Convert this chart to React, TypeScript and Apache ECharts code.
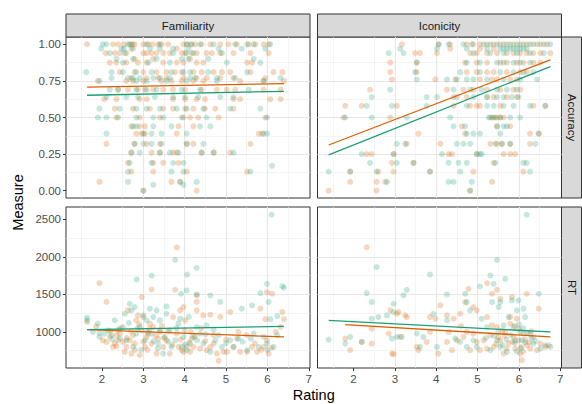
import React, { useEffect, useRef } from "react";
import * as echarts from "echarts";

const ORANGE = "#D95F02";
const TEAL = "#1B9E77";
const FONT = "'Liberation Sans', Arial, Helvetica, sans-serif";

const colPanels = ["Familiarity", "Iconicity"];
const rowPanels = ["Accuracy", "RT"];
const xTickValues = [2, 3, 4, 5, 6, 7];
const accTickValues = [0, 0.25, 0.5, 0.75, 1];
const rtTickValues = [1000, 1500, 2000, 2500];

// Accuracy rows: [accuracy, ratings...]
type Row = [number, number[]];

const famAccOrange: Row[] = [
  [1.0, [1.64, 2.27, 2.39, 2.53, 2.67, 2.74, 2.79, 3.0, 3.12, 3.22, 3.36, 3.44, 3.6, 3.97, 4.06, 4.15, 4.25, 4.41, 4.62, 4.86, 5.06, 5.26, 5.55, 5.71, 5.91, 6.03]],
  [0.97, [2.75, 3.81]],
  [0.94, [2.09, 2.31, 2.43, 2.59, 3.0, 3.08, 3.2, 3.32, 3.48, 3.64, 3.93, 4.01, 4.17, 4.29, 4.53, 4.66, 4.86, 5.18, 5.59, 6.03]],
  [0.9, [2.79, 3.24, 4.13]],
  [0.875, [2.19, 2.35, 2.59, 2.87, 3.08, 3.48, 3.81, 3.97, 4.29, 4.45, 5.51, 5.63]],
  [0.81, [2.43, 2.79, 3.0, 3.32, 3.56, 3.77, 3.93, 4.21, 4.41, 4.7, 4.9, 5.1, 5.59, 6.15, 6.36]],
  [0.77, [2.71, 3.08, 3.36, 3.56, 3.97, 4.29, 4.53, 4.86, 5.18, 5.95]],
  [0.75, [1.9, 2.59, 2.75, 3.0, 3.44, 3.68, 3.93, 4.21, 4.45, 5.34, 5.91, 6.4]],
  [0.69, [2.39, 2.63, 2.87, 3.04, 3.24, 3.48, 3.72, 4.01, 4.41, 4.78, 5.02, 5.22, 5.91, 6.32]],
  [0.625, [2.06, 2.35, 2.91, 3.08, 3.72, 4.01, 4.29, 4.49, 5.18, 5.34, 6.07, 6.32]],
  [0.56, [2.31, 2.75, 3.16, 3.48, 3.72, 4.01, 4.21, 4.49, 4.74, 5.18]],
  [0.5, [2.35, 2.91, 3.4, 3.97, 4.13, 4.33, 4.82, 5.95]],
  [0.44, [2.71, 2.91, 3.04, 3.85, 4.21]],
  [0.39, [2.83, 2.96, 3.04, 3.81, 5.79, 5.87]],
  [0.32, [2.11, 2.79, 3.08, 3.4, 4.05, 4.21, 5.59]],
  [0.26, [2.71, 3.2, 3.4, 3.72, 3.81, 4.41, 4.7, 5.1]],
  [0.19, [2.63, 3.24, 3.48, 3.85]],
  [0.13, [2.71, 3.24, 4.05, 5.51]],
  [0.06, [1.94, 3.68, 3.89]],
  [0.0, [3.0, 4.29]],
];

const famAccTeal: Row[] = [
  [1.0, [2.02, 2.11, 2.63, 2.71, 3.08, 3.4, 4.05, 4.17, 4.37, 4.7, 5.22, 5.51, 5.67, 6.07]],
  [0.97, [1.98, 2.47, 2.53, 2.71, 3.16, 3.4, 3.72, 4.09, 4.82, 5.38, 5.95]],
  [0.94, [2.19, 2.55, 3.72, 4.05, 4.21, 4.9]],
  [0.9, [2.35, 2.75, 3.32, 3.93, 4.09, 4.57, 5.67]],
  [0.875, [2.51, 3.12, 3.64, 5.02, 5.83]],
  [0.81, [1.62, 2.23, 2.51, 2.83, 3.2, 3.68, 3.97, 4.13, 4.57, 5.51]],
  [0.77, [2.23, 2.63, 2.75, 2.91, 3.24, 3.4, 3.64, 4.13, 4.25, 4.78, 5.22, 6.32]],
  [0.75, [1.94, 2.83, 3.08, 3.56, 4.05, 4.78, 5.91]],
  [0.69, [2.19, 2.39, 2.83, 3.08, 3.32, 3.93, 4.37, 5.55]],
  [0.64, [2.11, 2.59, 2.87, 3.28, 3.72, 4.01, 4.33, 4.86, 5.18]],
  [0.56, [1.94, 2.43, 2.83, 3.08, 3.4, 3.81, 4.05, 4.45, 5.1, 5.83]],
  [0.5, [1.9, 2.11, 2.39, 2.83, 3.24, 3.48, 3.93, 4.53, 5.99]],
  [0.44, [2.75, 2.83, 3.24, 3.68, 4.37, 4.62]],
  [0.39, [2.11, 3.0, 3.2, 3.44, 4.05, 5.91, 5.99]],
  [0.32, [2.79, 3.0, 3.2, 3.44, 4.05, 4.45]],
  [0.26, [2.71, 2.91, 3.4, 3.64, 3.85, 4.41, 4.7, 5.18]],
  [0.19, [2.67, 3.2, 3.72, 3.97]],
  [0.17, [6.11]],
  [0.13, [2.63, 3.68, 3.97, 5.59]],
  [0.06, [2.63, 3.89, 4.29]],
  [0.04, [3.24, 3.97]],
  [0.0, [3.0]],
];

const icoAccOrange: Row[] = [
  [1.0, [3.17, 4.06, 4.34, 4.74, 4.9, 5.06, 5.23, 5.39, 5.55, 5.71, 5.87, 6.03, 6.19, 6.35, 6.52, 6.68]],
  [0.97, [4.34, 5.06, 5.39]],
  [0.94, [3.49, 3.61, 4.02, 4.82, 4.98, 5.23, 5.47, 5.71, 5.87, 6.03, 6.19, 6.35, 6.52, 6.76]],
  [0.875, [2.89, 3.53, 4.7, 4.98, 5.23, 5.55, 5.71, 5.95, 6.11, 6.35, 6.52]],
  [0.81, [2.89, 3.53, 4.74, 4.98, 5.23, 5.39, 5.71, 6.03, 6.19]],
  [0.76, [2.93, 3.98, 4.46, 5.06, 5.35, 5.47, 5.79, 5.95]],
  [0.69, [2.4, 4.26, 4.66, 4.9, 5.23, 5.55, 5.87, 6.03]],
  [0.64, [4.5, 4.74, 5.23, 5.39, 5.71, 5.95]],
  [0.58, [1.8, 2.2, 3.05, 4.42, 4.82, 4.98, 5.06, 5.55, 6.35, 6.64]],
  [0.5, [1.76, 2.89, 5.31, 5.39, 5.47, 5.55, 5.63]],
  [0.44, [4.62, 5.47, 5.79]],
  [0.39, [3.57, 4.7, 6.27, 6.48]],
  [0.32, [3.29, 4.1, 5.31, 5.47, 5.59, 5.79, 6.27]],
  [0.25, [2.32, 2.44, 2.97, 4.3, 4.38, 4.98, 5.63, 5.79, 5.91]],
  [0.19, [2.93, 3.45, 5.39]],
  [0.13, [1.92, 2.6, 2.97, 3.85, 4.9, 6.11]],
  [0.06, [1.92, 2.56, 2.77, 5.35]],
  [0.0, [1.4, 2.56, 4.82]],
];

const icoAccTeal: Row[] = [
  [1.0, [4.06, 4.3, 4.66, 4.86, 5.15, 5.31, 5.47, 5.63, 5.79, 5.95, 6.11, 6.27, 6.44, 6.6, 6.76]],
  [0.97, [3.13, 4.02, 4.74, 5.23, 5.55, 5.63, 5.71, 5.79, 5.87, 5.95, 6.03, 6.11, 6.19]],
  [0.94, [2.85, 3.21, 4.9, 5.31, 5.63, 5.95, 6.27, 6.6]],
  [0.875, [3.53, 4.74, 5.06, 5.47, 5.63, 5.87, 6.03, 6.27]],
  [0.81, [3.49, 4.58, 5.06, 5.55, 5.87, 6.11, 6.35]],
  [0.76, [3.53, 4.26, 4.5, 4.74, 4.9, 5.23, 5.63, 6.03, 6.44]],
  [0.69, [2.89, 4.42, 4.82, 5.1, 5.47, 5.71, 5.95]],
  [0.64, [2.44, 3.77, 4.02, 4.42, 4.9, 5.23, 5.47, 5.63, 5.83, 5.99]],
  [0.58, [2.32, 2.93, 3.77, 4.74, 5.23, 5.39, 5.63, 5.87, 6.27, 6.64]],
  [0.5, [1.8, 2.44, 3.29, 4.34, 5.27, 5.35, 5.43, 5.55, 5.79, 6.03]],
  [0.44, [4.42, 4.7, 5.47, 5.63, 5.71]],
  [0.39, [4.74, 4.9, 5.06, 5.55, 6.48]],
  [0.32, [3.05, 3.25, 4.5, 4.66, 4.82, 5.43, 5.59, 5.79, 6.4]],
  [0.25, [2.2, 2.97, 4.14, 4.98, 5.06, 5.1]],
  [0.19, [2.4, 3.05, 3.45, 4.3, 4.54, 4.74, 5.43, 6.11, 6.19]],
  [0.13, [1.4, 1.92, 2.56, 3.85, 4.58, 6.27]],
  [0.06, [2.81, 4.3, 4.42, 4.86]],
  [0.0, [4.82]],
];

// RT points: [rating, RT]
const famRtOrange: [number, number][] = [
  [1.64, 1133], [1.86, 1075], [1.94, 1650], [2.11, 1400], [2.02, 889], [2.11, 867], [2.19, 934], [2.27, 801], [2.31, 845], [2.35, 810],
  [2.39, 889], [2.43, 978], [2.51, 867], [2.55, 735], [2.59, 801], [2.63, 1288], [2.67, 889], [2.71, 712], [2.75, 956], [2.79, 845],
  [2.83, 1155], [2.87, 1221], [2.91, 690], [2.96, 1022], [2.96, 1465], [3.0, 1199], [3.04, 801], [3.08, 934], [3.12, 978], [3.16, 1111],
  [3.2, 845], [3.2, 1566], [3.24, 1066], [3.32, 712], [3.36, 912], [3.4, 1000], [3.48, 801], [3.56, 889], [3.64, 712], [3.72, 1199],
  [3.77, 1562], [3.81, 2128], [3.81, 978], [3.85, 801], [3.89, 1288], [3.93, 757], [3.97, 735], [3.97, 1332], [4.01, 1155], [4.05, 801],
  [4.13, 735], [4.17, 912], [4.21, 801], [4.29, 1288], [4.29, 1400], [4.29, 1487], [4.37, 779], [4.45, 1221], [4.53, 757], [4.62, 801],
  [4.62, 1230], [4.7, 845], [4.78, 712], [4.82, 615], [4.86, 1200], [4.94, 735], [5.02, 735], [5.1, 1265], [5.18, 801], [5.26, 912],
  [5.34, 735], [5.51, 735], [5.63, 801], [5.75, 735], [5.83, 1310], [5.91, 801], [5.95, 1170], [5.99, 889], [5.99, 1530], [6.03, 712],
  [6.11, 1510], [6.32, 1066], [6.36, 1265], [6.4, 1170], [2.45, 1050], [2.6, 920], [2.7, 1010], [2.8, 760], [2.9, 1100], [3.0, 870],
  [3.1, 760], [3.15, 1040], [3.3, 950], [3.45, 1080], [3.5, 920], [3.6, 1010], [3.7, 830], [3.9, 900], [4.0, 1020], [4.1, 860],
  [4.15, 1000], [4.25, 940], [4.4, 1050], [4.5, 880], [4.7, 960], [5.0, 900], [5.3, 1000], [5.5, 960], [5.7, 850], [6.1, 790],
  [6.2, 1000], [5.85, 760], [2.2, 1010], [2.35, 960],
];

const famRtTeal: [number, number][] = [
  [1.64, 1190], [1.64, 1155], [1.9, 1111], [1.94, 987], [1.78, 1000], [1.94, 934], [2.06, 978], [2.15, 1022], [2.23, 956], [2.31, 1155],
  [2.43, 912], [2.51, 1066], [2.55, 1243], [2.59, 889], [2.67, 1376], [2.71, 1288], [2.75, 801], [2.79, 1332], [2.83, 978], [2.84, 1700],
  [2.91, 1066], [3.0, 1221], [3.04, 889], [3.08, 1155], [3.16, 1310], [3.2, 978], [3.2, 1752], [3.24, 1199], [3.32, 1288], [3.36, 845],
  [3.4, 1155], [3.48, 712], [3.52, 934], [3.56, 1243], [3.56, 1340], [3.64, 1022], [3.68, 801], [3.77, 889], [3.77, 1960], [3.85, 1111],
  [3.89, 1177], [3.91, 1509], [3.93, 801], [3.97, 934], [4.05, 757], [4.05, 1553], [4.06, 1765], [4.13, 845], [4.21, 934], [4.29, 1066],
  [4.29, 1854], [4.29, 1500], [4.37, 978], [4.45, 845], [4.53, 1089], [4.62, 735], [4.62, 1487], [4.74, 889], [4.82, 956], [4.86, 1400],
  [4.9, 801], [5.1, 889], [5.18, 801], [5.3, 912], [5.38, 1310], [5.51, 757], [5.63, 1354], [5.67, 978], [5.79, 801], [5.83, 1518],
  [5.91, 934], [5.99, 845], [5.99, 1642], [6.03, 1400], [6.07, 1170], [6.1, 2562], [6.15, 801], [6.24, 956], [6.24, 1212], [6.36, 1610],
  [6.4, 1590], [2.4, 1030], [2.65, 1120], [2.85, 1040], [2.95, 760], [3.1, 1000], [3.25, 880], [3.4, 1020], [3.6, 870], [3.8, 1050],
  [4.0, 830], [4.1, 1200], [4.3, 890], [4.5, 970], [4.7, 1030], [5.0, 850], [5.4, 870], [5.6, 910], [6.0, 760], [2.25, 900], [3.35, 780],
];

const icoRtOrange: [number, number][] = [
  [2.32, 2128], [3.05, 1243], [3.09, 1265], [3.25, 1221], [3.29, 1199], [2.89, 1288], [3.85, 1199], [3.98, 1177], [4.1, 1354], [4.26, 1221],
  [4.42, 1177], [4.58, 1243], [4.78, 1575], [4.7, 1398], [4.9, 1332], [5.23, 1650], [5.35, 1509], [5.47, 1562], [5.55, 1442], [5.83, 1465],
  [6.19, 1509], [6.48, 1310], [1.8, 912], [1.92, 757], [2.2, 867], [2.44, 1044], [2.44, 845], [2.85, 978], [2.93, 712], [2.97, 704],
  [3.13, 934], [3.53, 801], [3.57, 757], [3.77, 867], [3.85, 1000], [4.05, 712], [4.26, 867], [4.38, 757], [4.5, 889], [4.66, 934],
  [4.74, 1000], [4.82, 757], [4.9, 978], [4.98, 867], [5.06, 757], [5.15, 889], [5.23, 779], [5.31, 956], [5.39, 801], [5.47, 1066],
  [5.55, 889], [5.63, 712], [5.67, 1000], [5.75, 845], [5.79, 1111], [5.87, 934], [5.91, 779], [5.95, 1177], [5.99, 889], [6.03, 712],
  [6.07, 624], [6.11, 978], [6.19, 823], [6.27, 779], [6.35, 934], [6.44, 757], [6.52, 845], [6.64, 801], [6.72, 823], [5.79, 1199],
  [5.23, 1199], [4.98, 1288], [5.5, 930], [5.6, 1020], [5.7, 780], [5.85, 870], [6.0, 1040], [6.05, 800], [6.15, 900], [6.25, 860],
  [5.9, 1080], [6.1, 740], [5.45, 840], [5.65, 950], [6.3, 1010], [5.35, 1090], [4.6, 1080], [4.3, 1000],
];

const icoRtTeal: [number, number][] = [
  [1.4, 898], [1.8, 845], [1.92, 934], [2.2, 867], [2.32, 1518], [2.44, 1398], [2.44, 1177], [2.56, 1863], [2.6, 1199], [2.81, 1221],
  [2.93, 912], [2.97, 1265], [2.97, 1376], [3.05, 934], [3.17, 934], [3.21, 1487], [3.29, 1562], [3.53, 978], [3.61, 801], [3.69, 934],
  [3.85, 1765], [3.93, 1243], [4.02, 801], [4.26, 1500], [4.26, 1155], [4.46, 912], [4.58, 867], [4.7, 1509], [4.74, 1398], [4.82, 1288],
  [5.06, 1606], [5.1, 1177], [5.23, 1066], [5.31, 1752], [5.35, 1398], [5.39, 1642], [5.47, 1960], [5.51, 1332], [5.55, 1398], [5.63, 1089],
  [5.67, 1708], [5.75, 1199], [5.83, 1420], [5.87, 1066], [5.95, 1288], [5.99, 1420], [6.03, 1000], [6.07, 889], [6.11, 1310], [6.15, 1199],
  [6.19, 2562], [6.27, 978], [6.35, 845], [6.48, 1509], [6.52, 779], [6.64, 823], [6.76, 801], [4.9, 889], [4.98, 801], [5.31, 757],
  [5.55, 801], [5.71, 735], [5.91, 889], [4.74, 801], [5.47, 889], [5.5, 1000], [5.7, 900], [5.8, 960], [5.9, 850], [6.0, 1100],
  [6.05, 780], [6.15, 860], [6.2, 990], [6.3, 920], [5.6, 830], [5.4, 950], [6.1, 1050], [6.4, 880], [5.95, 740], [5.2, 920],
];

// Fitted regression lines (endpoints)
const famAccOrangeFit: [number, number][] = [[1.64, 0.708], [6.4, 0.731]];
const famAccTealFit: [number, number][] = [[1.64, 0.652], [6.4, 0.679]];
const icoAccOrangeFit: [number, number][] = [[1.4, 0.312], [6.76, 0.894]];
const icoAccTealFit: [number, number][] = [[1.4, 0.244], [6.76, 0.848]];
const famRtOrangeFit: [number, number][] = [[1.64, 1031], [6.4, 934]];
const famRtTealFit: [number, number][] = [[1.64, 1031], [6.4, 1075]];
const icoRtOrangeFit: [number, number][] = [[1.8, 1097], [6.76, 934]];
const icoRtTealFit: [number, number][] = [[1.4, 1155], [6.76, 1000]];

const X_MIN = 1.13;
const X_MAX = 7.03;
const ACC_MIN = -0.05;
const ACC_MAX = 1.05;
const RT_MIN = 520;
const RT_MAX = 2665;

const rowsToPoints = (rows: Row[]) => rows.flatMap(([y, xs]) => xs.map((x) => [x, y]));

const LEFT = [66, 317.5];
const PW = 244;
const TOP = [37, 207];
const PH = 161;

export default function App() {
  const ref = useRef<HTMLDivElement>(null);
  useEffect(() => {
    if (!ref.current) return;
    const chart = echarts.init(ref.current, undefined, { renderer: "svg" });

    const grids = [0, 1, 2, 3].map((i) => ({
      left: LEFT[i % 2],
      top: TOP[Math.floor(i / 2)],
      width: PW,
      height: PH,
      show: true,
      backgroundColor: "#FFFFFF",
      borderColor: "#333333",
      borderWidth: 1,
      outerBoundsMode: "none",
      containLabel: false,
    }));

    const splitLine = {
      show: true,
      showMinLine: false,
      showMaxLine: false,
      lineStyle: { color: "#E6E6E6", width: 1.1 },
    };
    const minorSplitLine = { show: true, lineStyle: { color: "#EDEDED", width: 0.6 } };

    const xAxes = [0, 1, 2, 3].map((i) => {
      const bottom = i >= 2;
      return {
        type: "value",
        gridIndex: i,
        min: X_MIN,
        max: X_MAX,
        minInterval: 1,
        maxInterval: 1,
        axisLine: { show: false },
        axisTick: { show: bottom, length: 3, lineStyle: { color: "#333333" }, customValues: xTickValues },
        axisLabel: {
          show: bottom,
          customValues: xTickValues,
          color: "#4D4D4D",
          fontSize: 11.5,
          fontFamily: FONT,
          margin: 5,
        },
        splitLine,
        minorTick: { show: false, splitNumber: 2 },
        minorSplitLine,
      };
    });

    const yAxes = [0, 1, 2, 3].map((i) => {
      const acc = i < 2;
      const left = i % 2 === 0;
      return {
        type: "value",
        gridIndex: i,
        min: acc ? ACC_MIN : RT_MIN,
        max: acc ? ACC_MAX : RT_MAX,
        minInterval: acc ? 0.25 : 500,
        maxInterval: acc ? 0.25 : 500,
        axisLine: { show: false },
        axisTick: {
          show: left,
          length: 3,
          lineStyle: { color: "#333333" },
          customValues: acc ? accTickValues : rtTickValues,
        },
        axisLabel: {
          show: left,
          customValues: acc ? accTickValues : rtTickValues,
          color: "#4D4D4D",
          fontSize: 11.5,
          fontFamily: FONT,
          margin: 5,
          formatter: (v: number) => (acc ? v.toFixed(2) : String(v)),
        },
        splitLine,
        minorTick: { show: false, splitNumber: 2 },
        minorSplitLine,
      };
    });

    const scatter = (idx: number, data: number[][], color: string) => ({
      type: "scatter",
      xAxisIndex: idx,
      yAxisIndex: idx,
      data,
      symbolSize: 6,
      itemStyle: { color, opacity: 0.25 },
      silent: true,
      clip: false,
    });
    const fit = (idx: number, data: number[][], color: string) => ({
      type: "line",
      xAxisIndex: idx,
      yAxisIndex: idx,
      data,
      symbol: "none",
      lineStyle: { color, width: 1.3 },
      silent: true,
      z: 5,
    });

    const series = [
      scatter(0, rowsToPoints(famAccOrange), ORANGE),
      scatter(0, rowsToPoints(famAccTeal), TEAL),
      scatter(1, rowsToPoints(icoAccOrange), ORANGE),
      scatter(1, rowsToPoints(icoAccTeal), TEAL),
      scatter(2, famRtOrange, ORANGE),
      scatter(2, famRtTeal, TEAL),
      scatter(3, icoRtOrange, ORANGE),
      scatter(3, icoRtTeal, TEAL),
      fit(0, famAccOrangeFit, ORANGE),
      fit(0, famAccTealFit, TEAL),
      fit(1, icoAccOrangeFit, ORANGE),
      fit(1, icoAccTealFit, TEAL),
      fit(2, famRtOrangeFit, ORANGE),
      fit(2, famRtTealFit, TEAL),
      fit(3, icoRtOrangeFit, ORANGE),
      fit(3, icoRtTealFit, TEAL),
    ];

    const stripStyle = { fill: "#D9D9D9", stroke: "#333333", lineWidth: 1 };
    const stripText = { fill: "#1A1A1A", fontSize: 11.5, fontFamily: FONT, align: "center", verticalAlign: "middle" };
    const STRIP_H = 23;
    const STRIP_W = 20;
    const graphic: any[] = [];
    colPanels.forEach((name, c) => {
      graphic.push({ type: "rect", shape: { x: LEFT[c], y: TOP[0] - STRIP_H, width: PW, height: STRIP_H }, style: stripStyle, silent: true });
      graphic.push({ type: "text", x: LEFT[c] + PW / 2, y: TOP[0] - STRIP_H / 2, style: { ...stripText, text: name }, silent: true });
    });
    rowPanels.forEach((name, r) => {
      const x0 = LEFT[1] + PW;
      graphic.push({ type: "rect", shape: { x: x0, y: TOP[r], width: STRIP_W, height: PH }, style: stripStyle, silent: true });
      graphic.push({
        type: "text",
        x: x0 + STRIP_W / 2,
        y: TOP[r] + PH / 2,
        rotation: -Math.PI / 2,
        style: { ...stripText, text: name },
        silent: true,
      });
    });
    graphic.push({
      type: "text",
      x: 18,
      y: (TOP[0] + TOP[1] + PH) / 2,
      rotation: Math.PI / 2,
      style: { text: "Measure", fill: "#000000", fontSize: 14.5, fontFamily: FONT, align: "center", verticalAlign: "middle" },
      silent: true,
    });
    graphic.push({
      type: "text",
      x: (LEFT[0] + LEFT[1] + PW) / 2,
      y: 395,
      style: { text: "Rating", fill: "#000000", fontSize: 14.5, fontFamily: FONT, align: "center", verticalAlign: "middle" },
      silent: true,
    });

    chart.setOption({
      animation: false,
      backgroundColor: "#FFFFFF",
      grid: grids,
      xAxis: xAxes,
      yAxis: yAxes,
      series,
      graphic,
    });
    return () => chart.dispose();
  }, []);

  return <div ref={ref} style={{ position: "fixed", left: 0, top: 0, width: 582, height: 404 }} />;
}
